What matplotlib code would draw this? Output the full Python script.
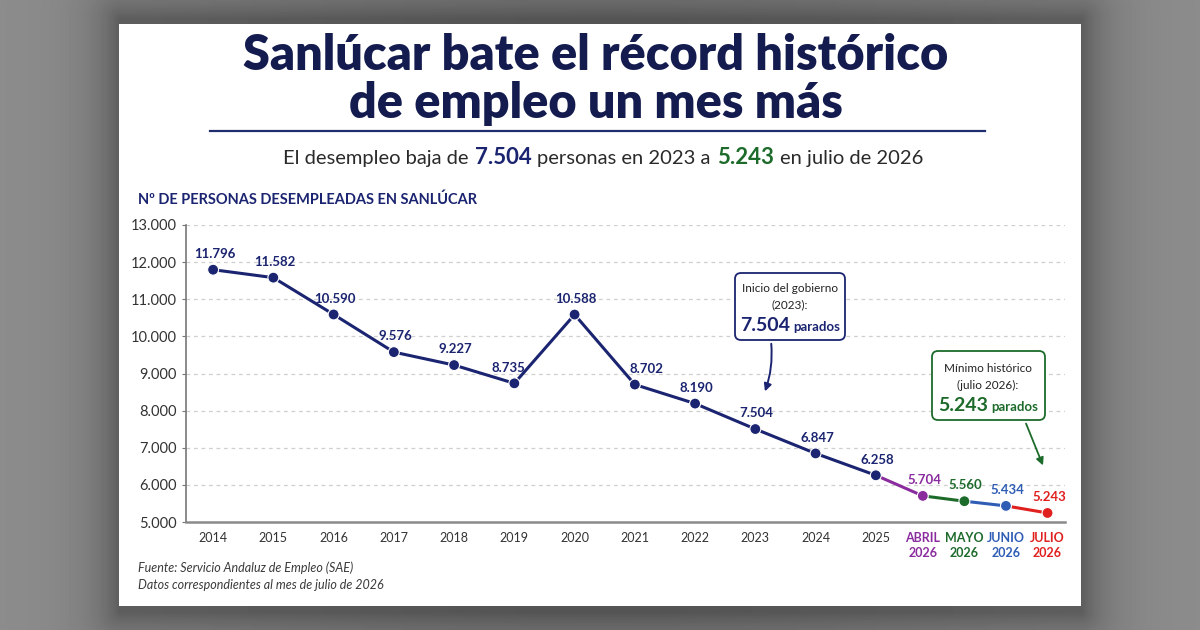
import matplotlib
matplotlib.use('Agg')
import matplotlib.pyplot as plt
import numpy as np
from matplotlib.patches import FancyBboxPatch, Rectangle, FancyArrowPatch

plt.rcParams['font.family'] = ['Lato', 'DejaVu Sans']

# ---------------- data ----------------
categories = ['2014', '2015', '2016', '2017', '2018', '2019', '2020', '2021',
              '2022', '2023', '2024', '2025',
              'ABRIL\n2026', 'MAYO\n2026', 'JUNIO\n2026', 'JULIO\n2026']
values = [11796, 11582, 10590, 9576, 9227, 8735, 10588, 8702,
          8190, 7504, 6847, 6258, 5704, 5560, 5434, 5243]
yticks = [5000, 6000, 7000, 8000, 9000, 10000, 11000, 12000, 13000]
ytick_labels = ['5.000', '6.000', '7.000', '8.000', '9.000', '10.000',
                '11.000', '12.000', '13.000']

title_lines = ['Sanlúcar bate el récord histórico', 'de empleo un mes más']
section_title = 'Nº DE PERSONAS DESEMPLEADAS EN SANLÚCAR'
source_lines = ['Fuente: Servicio Andaluz de Empleo (SAE)',
                'Datos correspondientes al mes de julio de 2026']

# ---------------- style ----------------
NAVY = '#1b2470'
TITLE = '#141c4f'
PURPLE = '#8a2c9e'
GREEN = '#1d6b2b'
BLUE = '#2f5db5'
RED = '#e0201f'
point_colors = [NAVY] * 12 + [PURPLE, GREEN, BLUE, RED]
W, H = 1200, 630


def fmt(v):
    return f"{v:,}".replace(',', '.')


fig = plt.figure(figsize=(12, 6.3), dpi=100)

# background (pixel coordinate axes)
bg = fig.add_axes([0, 0, 1, 1], zorder=-5)
bg.set_xlim(0, W)
bg.set_ylim(H, 0)
bg.axis('off')
cx0, cy0, cx1, cy1 = 119, 24, 1081, 606
yy, xx = np.mgrid[0:H, 0:W]
dx = np.maximum(np.maximum(cx0 - xx, xx - cx1), 0)
dy = np.maximum(np.maximum(cy0 - 6 - yy, yy - cy1 - 6), 0)
d = np.sqrt(dx ** 2 + dy ** 2)
base = 0.53 + 0.04 * np.cos((xx / W) * np.pi * 2) * 0.5
shade = base - 0.18 * np.exp(-d / 28.0)
bg.imshow(shade, cmap='gray', vmin=0, vmax=1, extent=[0, W, H, 0],
          aspect='auto', zorder=0)
bg.add_patch(Rectangle((cx0, cy0), cx1 - cx0, cy1 - cy0, facecolor='white',
                       edgecolor='none', zorder=2))
P = bg.transData

# title
fig.text(596, 56, title_lines[0], transform=P, ha='center', va='center',
         fontsize=35, fontweight='heavy', color=TITLE)
fig.text(596, 104, title_lines[1], transform=P, ha='center', va='center',
         fontsize=35, fontweight='heavy', color=TITLE)
bg.plot([210, 985], [131, 131], color='#1f2d6e', lw=1.6, zorder=3)

renderer = fig.canvas.get_renderer()


def rich_text(xc, ybase, parts, gap):
    objs = []
    widths = []
    for s, kw in parts:
        t = fig.text(0, ybase, s, transform=P, ha='left', va='baseline', **kw)
        objs.append(t)
        widths.append(t.get_window_extent(renderer).width)
    total = sum(widths) + gap * (len(parts) - 1)
    x = xc - total / 2
    for t, w in zip(objs, widths):
        t.set_x(x)
        x += w + gap
    return objs


sub_reg = dict(fontsize=14.5, color='#2a2a2a')
sub_b1 = dict(fontsize=16, color=NAVY, fontweight='bold')
sub_b2 = dict(fontsize=16, color=GREEN, fontweight='bold')
rich_text(603, 164, [('El desempleo baja de', sub_reg), ('7.504', sub_b1),
                     ('personas en 2023 a', sub_reg), ('5.243', sub_b2),
                     ('en julio de 2026', sub_reg)], gap=6)

fig.text(138, 200, section_title, transform=P, ha='left', va='center',
         fontsize=10.5, fontweight='bold', color=NAVY)

for i, s in enumerate(source_lines):
    fig.text(138, 568 + i * 17, s, transform=P, ha='left', va='center',
             fontsize=9, fontstyle='italic', color='#3a3a3a')

# ---------------- chart ----------------
ax = fig.add_axes([186 / W, 1 - 522 / H, (1065 - 186) / W, (522 - 225) / H],
                  zorder=1)
ax.set_facecolor('none')
x = np.concatenate([np.arange(12), 11 + 0.78 + 0.69 * np.arange(4)])
ax.set_xlim(-0.45, 14.14)
ax.set_ylim(5000, 13000)

for yv in yticks[1:]:
    ax.axhline(yv, color='#cfcfcf', lw=0.9, ls=(0, (3, 3)), zorder=0)

for i in range(len(values) - 1):
    ax.plot(x[i:i + 2], values[i:i + 2], color=point_colors[i + 1], lw=2.2,
            solid_capstyle='round', zorder=2)
ax.scatter(x, values, s=62, c=point_colors, zorder=3, edgecolors='white',
           linewidths=0.8)

label_dx = {5: -5, 7: 7}
for i, (xi, v, c) in enumerate(zip(x, values, point_colors)):
    ax.annotate(fmt(v), (xi, v), xytext=(1 + label_dx.get(i, 0), 7),
                textcoords='offset points', ha='center', va='bottom',
                fontsize=9.5, fontweight='bold', color=c, zorder=4)

ax.set_yticks(yticks)
ax.set_yticklabels(ytick_labels, fontsize=10.5, color='#333333')
ax.set_xticks(x)
ax.set_xticklabels(categories, fontsize=9, color='#333333', linespacing=1.3)
for lbl, c in zip(ax.get_xticklabels(), point_colors):
    if c != NAVY:
        lbl.set_color(c)
        lbl.set_fontweight('bold')
ax.tick_params(axis='x', length=0, pad=7)
ax.tick_params(axis='y', length=3, color='#777777', pad=4)
for s in ['top', 'right']:
    ax.spines[s].set_visible(False)
ax.spines['left'].set_color('#777777')
ax.spines['left'].set_linewidth(1.2)
ax.spines['bottom'].set_color('#8a8a8a')
ax.spines['bottom'].set_linewidth(1.8)

# ---------------- callouts ----------------
box1 = FancyBboxPatch((735, 273), 110, 67, boxstyle='round,pad=0,rounding_size=6',
                      transform=P, facecolor='white', edgecolor=NAVY, lw=1.3,
                      zorder=5)
fig.add_artist(box1)
fig.text(790, 289, 'Inicio del gobierno', transform=P, ha='center',
         va='center', fontsize=8.5, color='#222222', zorder=6)
fig.text(790, 305, '(2023):', transform=P, ha='center', va='center',
         fontsize=8.5, color='#222222', zorder=6)
for t in rich_text(790, 331, [('7.504', dict(fontsize=14, fontweight='bold', color=NAVY)),
                              ('parados', dict(fontsize=9.5, fontweight='bold', color=NAVY))],
                   gap=3):
    t.set_zorder(6)
arr1 = FancyArrowPatch((771, 341), (764, 394), transform=P,
                       connectionstyle='arc3,rad=-0.12', arrowstyle='-|>',
                       mutation_scale=11, color=NAVY, lw=1.4, zorder=6)
fig.add_artist(arr1)

box2 = FancyBboxPatch((932, 351), 113, 69, boxstyle='round,pad=0,rounding_size=6',
                      transform=P, facecolor='white', edgecolor=GREEN, lw=1.3,
                      zorder=5)
fig.add_artist(box2)
fig.text(988, 368, 'Mínimo histórico', transform=P, ha='center',
         va='center', fontsize=8.5, color='#222222', zorder=6)
fig.text(988, 385, '(julio 2026):', transform=P, ha='center', va='center',
         fontsize=8.5, color='#222222', zorder=6)
for t in rich_text(988, 411, [('5.243', dict(fontsize=14, fontweight='bold', color=GREEN)),
                              ('parados', dict(fontsize=9.5, fontweight='bold', color=GREEN))],
                   gap=3):
    t.set_zorder(6)
arr2 = FancyArrowPatch((1025, 421), (1044, 468), transform=P,
                       arrowstyle='-|>', mutation_scale=11, color=GREEN,
                       lw=1.3, zorder=6)
fig.add_artist(arr2)

fig.savefig('out.png', dpi=100)
